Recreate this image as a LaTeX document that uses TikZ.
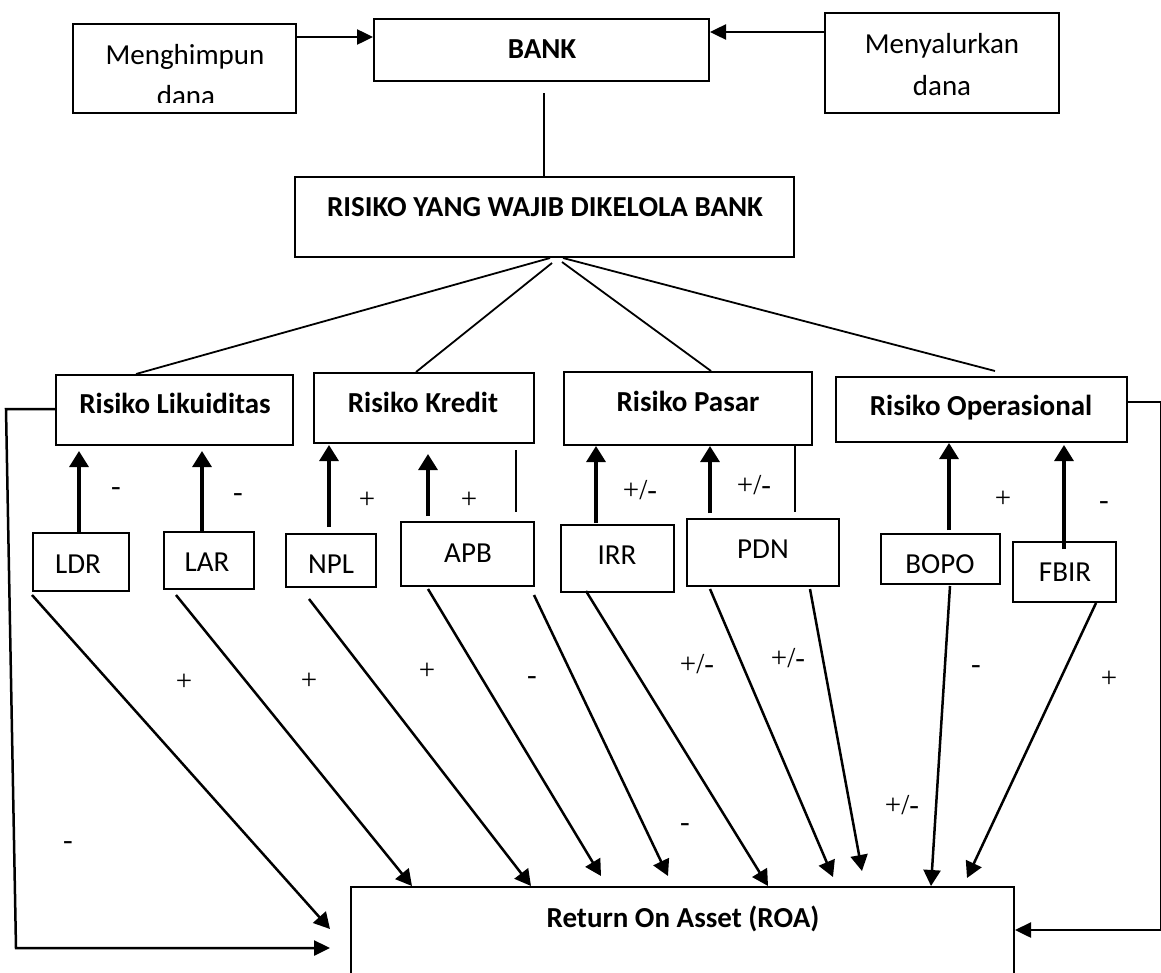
\documentclass[tikz,border=0pt]{standalone}
\usepackage{fontspec}
\setmainfont{Carlito}
\newfontfamily\signfont{Liberation Serif}
\usetikzlibrary{arrows.meta,calc}
\begin{document}
\begin{tikzpicture}[x=1pt,y=-1pt,
  box/.style={draw,line width=2pt,inner sep=0pt,rectangle},
  txt/.style={anchor=base,inner sep=0pt,font=\fontsize{29}{35}\selectfont},
  btxt/.style={anchor=base,inner sep=0pt,font=\fontsize{29}{35}\selectfont\bfseries},
  sign/.style={anchor=base,inner sep=0pt,font=\signfont\fontsize{29}{35}\selectfont},
  conn/.style={line width=1.8pt},
  plainline/.style={line width=2.4pt},
  uparr/.style={line width=3.2pt,-{Triangle[length=16pt,width=19pt]}},
  diag/.style={line width=2.5pt,-{Triangle[length=16pt,width=17pt]}},
  harr/.style={line width=2.5pt,-{Triangle[length=16pt,width=15pt]}},
]
\useasboundingbox[fill=white] (0,0) rectangle (1161,972);

% ---------- top row ----------
\node[box,minimum width=223pt,minimum height=89pt] (mh) at (184.5,68.5) {};
\node[txt] (mht) at (185,64) {Menghimpun};
\begin{scope}
  \clip (73,24) rectangle (296,102);
  \node[txt] (mhd) at (186,105) {dana};
\end{scope}
\node[box,minimum width=335pt,minimum height=62pt] (bank) at (541.5,50) {};
\node[btxt] (bankt) at (542,58) {BANK};
\node[box,minimum width=234pt,minimum height=100pt] (ms) at (942,63) {};
\node[txt] (mst) at (942,53) {Menyalurkan};
\node[txt] (msd) at (942,95) {dana};

\draw[harr] ($(mh.north east)+(0,14)$) -- ($(bank.north west)+(0,19)$);
\draw[harr] ($(ms.north west)+(0,20)$) -- ($(bank.north east)+(0,14)$);

% ---------- risk box ----------
\node[box,minimum width=499pt,minimum height=80pt] (risk) at (544.5,217) {};
\node[btxt] (riskt) at (545,216) {RISIKO YANG WAJIB DIKELOLA BANK};
\draw[conn] ($(bank.south west)+(171,11)$) -- ($(risk.north west)+(250,0)$);

% ---------- level 2 ----------
\node[box,minimum width=237pt,minimum height=70pt] (likv) at (174.5,410) {};
\node[btxt] at (175,413) {Risiko Likuiditas};
\node[box,minimum width=220pt,minimum height=70pt] (kred) at (424,408) {};
\node[btxt] at (423,412) {Risiko Kredit};
\node[box,minimum width=248pt,minimum height=73pt] (pasar) at (688,408.5) {};
\node[btxt] at (688,411) {Risiko Pasar};
\node[box,minimum width=291pt,minimum height=65pt] (oper) at (981.5,409.5) {};
\node[btxt] at (981,415) {Risiko Operasional};

\draw[conn] ($(risk.south west)+(256,0)$) -- ($(likv.north west)+(81,0)$);
\draw[conn] ($(risk.south west)+(258,5)$) -- ($(kred.north west)+(103,0)$);
\draw[conn] ($(risk.south west)+(268,4)$) -- ($(pasar.north west)+(148,0)$);
\draw[conn] ($(risk.south west)+(269,0)$) -- ($(oper.north west)+(160,-5)$);

% ---------- level 3 ----------
\node[box,minimum width=96pt,minimum height=58pt] (ldr) at (81,562) {};
\node[txt] at (78,573) {LDR};
\node[box,minimum width=90pt,minimum height=57pt] (lar) at (209,560.5) {};
\node[txt] at (207,571) {LAR};
\node[box,minimum width=90pt,minimum height=53pt] (npl) at (331,560.5) {};
\node[txt] at (331,573) {NPL};
\node[box,minimum width=133pt,minimum height=64pt] (apb) at (467.5,554) {};
\node[txt] at (468,562) {APB};
\node[box,minimum width=113pt,minimum height=67pt] (irr) at (617.5,558.5) {};
\node[txt] at (617,564) {IRR};
\node[box,minimum width=152pt,minimum height=67pt] (pdn) at (763,552.5) {};
\node[txt] at (763,558) {PDN};
\node[box,minimum width=119pt,minimum height=50pt] (bopo) at (940.5,559) {};
\node[txt] at (940,573) {BOPO};
\node[box,minimum width=103pt,minimum height=60pt] (fbir) at (1064.5,572) {};
\node[txt] at (1065,581) {FBIR};

% up arrows
\draw[uparr] ($(ldr.north west)+(47,0)$) -- ($(likv.south west)+(24,5)$);
\draw[uparr] ($(lar.north west)+(39,0)$) -- ($(likv.south west)+(147,5)$);
\draw[uparr] ($(npl.north west)+(44,-6)$) -- ($(kred.south west)+(16,1)$);
\draw[uparr] ($(apb.north west)+(28,-5)$) -- ($(kred.south west)+(115,10)$);
\draw[plainline] ($(kred.south west)+(203,6)$) -- ($(apb.north west)+(116,-9)$);
\draw[uparr] ($(irr.north west)+(36,-1)$) -- ($(pasar.south west)+(33,0)$);
\draw[uparr] ($(pdn.north west)+(24,-5)$) -- ($(pasar.south west)+(147,0)$);
\draw[plainline] ($(pasar.south west)+(232,0)$) -- ($(pdn.north west)+(109,-6)$);
\draw[uparr] ($(bopo.north west)+(69,-3)$) -- ($(oper.south west)+(114,0)$);
\draw[uparr] ($(fbir.north west)+(52,8)$) -- ($(oper.south west)+(229,2)$);

% signs upper
\node[sign] at (116,495) {-};
\node[sign] at (238,501) {-};
\node[sign] at (367,508) {+};
\node[sign] at (469,508) {+};
\node[sign] at (640,499) {+/-};
\node[sign] at (754,494) {+/-};
\node[sign] at (1003,507) {+};
\node[sign] at (1104,509) {-};

% ---------- ROA ----------
\node[box,minimum width=663pt,minimum height=103pt] (roa) at (682.5,938.5) {};
\node[btxt] at (683,927) {Return On Asset (ROA)};

% diagonals
\draw[diag] ($(ldr.south west)+(0,3)$) -- ($(roa.north west)+(-20,43)$);
\draw[diag] ($(lar.south west)+(13,5)$) -- ($(roa.north west)+(62,0)$);
\draw[diag] ($(npl.south west)+(24,11)$) -- ($(roa.north west)+(181,0)$);
\draw[diag] ($(apb.south west)+(28,2)$) -- ($(roa.north west)+(251,-10)$);
\draw[diag] ($(apb.south east)+(-1,8)$) -- ($(roa.north west)+(318,-10)$);
\draw[diag] ($(irr.south west)+(26,-2)$) -- ($(roa.north west)+(418,0)$);
\draw[diag] ($(pdn.south west)+(24,2)$) -- ($(roa.north west)+(483,-9)$);
\draw[diag] ($(pdn.south west)+(124,2)$) -- ($(roa.north west)+(512,-15)$);
\draw[diag] ($(bopo.south west)+(70,1)$) -- ($(roa.north west)+(581,0)$);
\draw[diag] ($(fbir.south west)+(84,0)$) -- ($(roa.north west)+(617,-8)$);

% loops
\draw[harr] ($(likv.north west)+(0,35)$) -- ($(likv.north west)+(-49,35)$)
  -- ($(roa.north west)+(-334,62)$) -- ($(roa.north west)+(-20,62)$);
\draw[harr] ($(oper.north east)+(0,26)$) -- ($(oper.north east)+(33,26)$)
  -- ($(roa.north east)+(146,44)$) -- ($(roa.north east)+(0,44)$);

% signs lower
\node[sign] at (184,690) {+};
\node[sign] at (309,689) {+};
\node[sign] at (427,679) {+};
\node[sign] at (532,684) {-};
\node[sign] at (697,673) {+/-};
\node[sign] at (788,667) {+/-};
\node[sign] at (976,673) {-};
\node[sign] at (1109,687) {+};
\node[sign] at (902,814) {+/-};
\node[sign] at (685,831) {-};
\node[sign] at (68,849) {-};
\end{tikzpicture}
\end{document}
